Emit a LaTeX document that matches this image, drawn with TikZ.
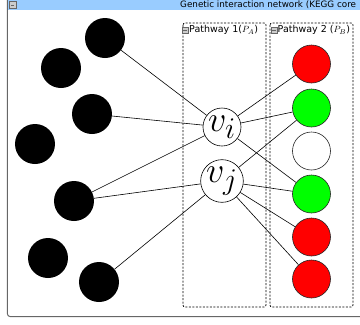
\documentclass[tikz,border=0pt]{standalone}
\usepackage{fontspec}
\setsansfont{DejaVu Sans}
\definecolor{hdr}{HTML}{99CCFF}
\definecolor{nred}{HTML}{FF0000}
\definecolor{ngreen}{HTML}{00FF00}
\begin{document}
\begin{tikzpicture}[x=1pt,y=-1pt,
  blk/.style={circle,fill=black,minimum size=40pt,inner sep=0pt},
  gene/.style={circle,draw=black!85,line width=0.6pt,minimum size=38pt,inner sep=0pt},
  hub/.style={circle,draw=black,fill=white,line width=0.6pt,minimum size=38pt,inner sep=0pt,font=\Huge},
  pbox/.style={draw=black,dash pattern=on 2pt off 1.5pt,line width=0.7pt,rounded corners=2pt},
  lbl/.style={font=\sffamily\fontsize{9.5}{10}\selectfont,inner sep=0pt,anchor=west},
  minus/.style={draw=black!60,fill=black!20,minimum size=6pt,inner sep=0pt,line width=0.4pt,
    path picture={\draw[line width=0.8pt] ([xshift=-1.7pt]path picture bounding box.center) -- ([xshift=1.7pt]path picture bounding box.center);}},
  edge/.style={line width=0.6pt}]
\useasboundingbox (0,0) rectangle (360,325);
% frame
\fill[hdr] (8,0) rectangle (360,9.5);
\draw[black!60,line width=1pt] (7.5,0) -- (7.5,314) to[out=-90,in=180] (10,316.5) -- (360,316.5);
\node[minus,minimum size=7pt] (hm) at (12.5,5) {};
\node[font=\sffamily\fontsize{8.8}{9}\selectfont,anchor=west,inner sep=0pt] (title) at (180,4.5) {Genetic interaction network (KEGG core};
% pathway boxes
\draw[pbox] (183,23) rectangle (266,307);
\draw[pbox] (270,23) rectangle (353,307);
\node[minus] (m1) at (185,30) {};
\node[lbl] (l1) at (189,30) {Pathway 1($P_A$)};
\node[minus] (m2) at (274,30) {};
\node[lbl] (l2) at (277.5,30) {Pathway 2 ($P_B$)};
% black nodes
\node[blk] (b1) at (105,38) {};
\node[blk] (b2) at (61,68) {};
\node[blk] (b3) at (92,114) {};
\node[blk] (b4) at (35,144) {};
\node[blk] (b5) at (74,201) {};
\node[blk] (b6) at (48,258) {};
\node[blk] (b7) at (99,282) {};
% gene nodes
\node[gene,fill=nred] (g1) at (311.5,64) {};
\node[gene,fill=ngreen] (g2) at (311.5,108) {};
\node[gene,fill=white] (g3) at (311.5,151) {};
\node[gene,fill=ngreen] (g4) at (311.5,194) {};
\node[gene,fill=nred] (g5) at (311.5,237) {};
\node[gene,fill=nred] (g6) at (311.5,279) {};
% hubs
\node[hub] (vi) at (222,127) {\scalebox{1.45}{$v_i$}};
\node[hub] (vj) at (222,181) {\scalebox{1.45}{$v_j$}};
% edges
\draw[edge] (b1) -- (vi);
\draw[edge] (b3) -- (vi);
\draw[edge] (b5) -- (vi);
\draw[edge] (b5) -- (vj);
\draw[edge] (b7) -- (vj);
\draw[edge] (vi) -- (g1);
\draw[edge] (vi) -- (g2);
\draw[edge] (vi) -- (g4);
\draw[edge] (vj) -- (g2);
\draw[edge] (vj) -- (g4);
\draw[edge] (vj) -- (g5);
\draw[edge] (vj) -- (g6);
\end{tikzpicture}
\end{document}
